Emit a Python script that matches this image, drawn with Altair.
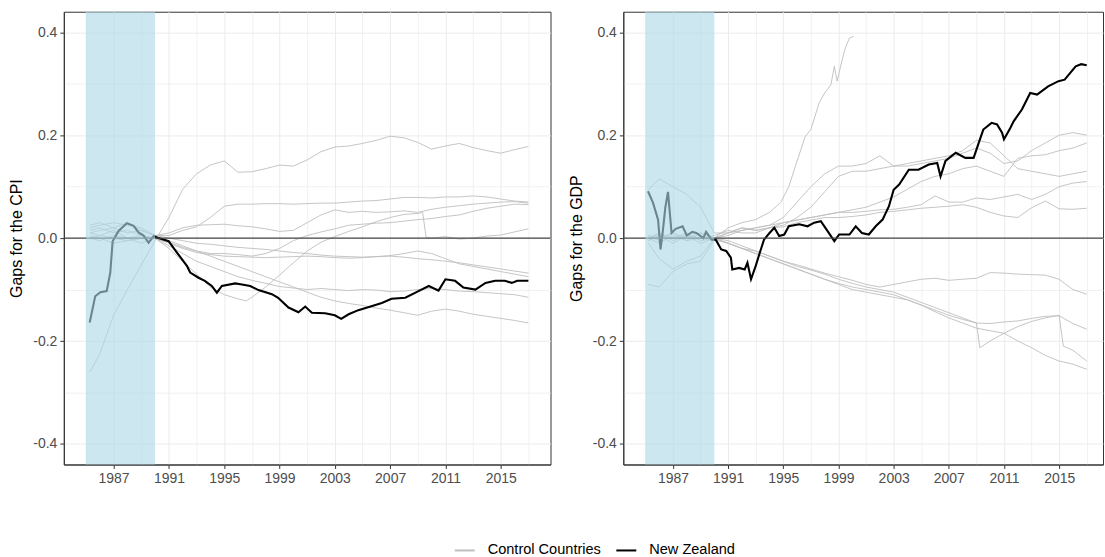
import altair as alt
import pandas as pd

# ---------------- data ----------------
GROUPS = ["Control Countries", "New Zealand"]
GROUP_COLORS = ["#BEBEBE", "#000000"]

GRID_YEARS = [1985, 1987, 1989, 1991, 1993, 1995, 1997, 1999, 2001, 2003,
              2005, 2007, 2009, 2011, 2013, 2015, 2017]
Y_GRID = [-0.4, -0.3, -0.2, -0.1, 0.0, 0.1, 0.2, 0.3, 0.4]
SHADE_START = [1985]
SHADE_END = [1990]
ZERO = [0.0]

# ---- CPI panel ----
CPI_YEARS = [1985.3, 1986, 1987, 1988, 1989, 1990, 1991, 1992, 1993, 1994, 1995,
             1996, 1997, 1998, 1999, 2000, 2001, 2002, 2003, 2004, 2005, 2006,
             2007, 2008, 2009, 2010, 2011, 2012, 2013, 2014, 2015, 2016, 2017]
CPI_A = [-0.26, -0.225, -0.15, -0.1, -0.052, -0.005, 0.04, 0.095, 0.125, 0.142, 0.15,
         0.128, 0.129, 0.135, 0.142, 0.14, 0.152, 0.168, 0.177, 0.179, 0.184, 0.19,
         0.198, 0.195, 0.186, 0.173, 0.179, 0.184, 0.176, 0.17, 0.165, 0.172, 0.178]
CPI_B = [0.01, 0.015, 0.02, 0.01, 0.015, 0.005, 0.005, 0.015, 0.022, 0.04, 0.062,
         0.066, 0.066, 0.067, 0.067, 0.066, 0.067, 0.068, 0.068, 0.07, 0.072, 0.073,
         0.076, 0.079, 0.079, 0.078, 0.08, 0.08, 0.082, 0.08, 0.076, 0.072, 0.07]
CPI_C = [0.02, 0.025, 0.03, 0.025, 0.02, 0.005, 0.01, 0.02, 0.025, 0.026, 0.027,
         0.024, 0.022, 0.018, 0.013, 0.015, 0.03, 0.045, 0.055, 0.05, 0.052, 0.05,
         0.051, 0.053, 0.05, 0.056, 0.06, 0.063, 0.066, 0.068, 0.07, 0.071, 0.068]
CPI_D = [0.0, -0.005, 0.005, 0.0, -0.01, 0.0, -0.008, -0.018, -0.025, -0.03, -0.03,
         -0.032, -0.035, -0.03, -0.02, -0.005, 0.005, 0.012, 0.018, 0.025, 0.027, 0.029,
         0.03, 0.033, 0.036, 0.038, 0.042, 0.045, 0.052, 0.058, 0.062, 0.066, 0.065]
CPI_F1 = [0.025, 0.03, 0.02, 0.03, 0.015, 0.005, 0.0, -0.005, -0.01, -0.012, -0.015,
          -0.018, -0.02, -0.022, -0.025, -0.028, -0.03, -0.033, -0.035, -0.036, -0.037, -0.036,
          -0.035, -0.037, -0.04, -0.042, -0.045, -0.048, -0.052, -0.056, -0.06, -0.064, -0.068]
CPI_F2 = [0.01, 0.005, 0.015, 0.0, 0.005, 0.0, -0.01, -0.02, -0.028, -0.032, -0.035,
          -0.036, -0.037, -0.038, -0.037, -0.036, -0.035, -0.036, -0.038, -0.039, -0.038, -0.036,
          -0.034, -0.03, -0.025, -0.03, -0.04, -0.05, -0.055, -0.06, -0.065, -0.07, -0.075]
CPI_G = [0.0, 0.005, 0.0, -0.005, 0.0, 0.0, -0.015, -0.03, -0.045, -0.055, -0.065,
         -0.075, -0.082, -0.088, -0.094, -0.097, -0.1, -0.098, -0.1, -0.102, -0.1, -0.101,
         -0.104, -0.103, -0.1, -0.098, -0.1, -0.103, -0.104, -0.106, -0.108, -0.11, -0.115]
CPI_H = [0.005, 0.0, -0.01, -0.005, 0.0, 0.0, -0.005, -0.015, -0.025, -0.035, -0.045,
         -0.055, -0.065, -0.075, -0.085, -0.095, -0.105, -0.115, -0.122, -0.127, -0.131, -0.136,
         -0.14, -0.145, -0.15, -0.142, -0.138, -0.142, -0.148, -0.152, -0.156, -0.16, -0.165]
CPI_E_YEARS = [1985.3, 1986, 1987, 1988, 1989, 1990, 1991, 1992, 1993, 1994,
               1995, 1996, 1996.6, 1997, 1998, 1999, 2000, 2001, 2002, 2003,
               2004, 2005, 2006, 2007, 2008, 2009, 2009.35, 2009.6, 2010, 2011,
               2012, 2013, 2014, 2015, 2016, 2017]
CPI_E = [0.015, 0.02, 0.01, 0.015, 0.005, 0.0, -0.02, -0.045, -0.07, -0.095,
         -0.11, -0.118, -0.122, -0.115, -0.095, -0.072, -0.048, -0.025, -0.008, 0.003,
         0.013, 0.022, 0.032, 0.04, 0.046, 0.048, 0.05, 0.002, 0.0, 0.003,
         -0.002, 0.0, 0.004, 0.006, 0.012, 0.018]
NZ_CPI_YEARS = [1985.27, 1985.67, 1986.04, 1986.5, 1986.76, 1986.93, 1987.36, 1987.96, 1988.45, 1988.8,
                1989.17, 1989.53, 1989.9, 1990.25, 1990.98, 1991.58, 1992.3, 1992.54, 1993.14, 1993.6,
                1994.1, 1994.47, 1994.83, 1995.8, 1996.28, 1996.88, 1997.48, 1998.45, 1998.9, 1999.65,
                2000.37, 2000.86, 2001.34, 2002.3, 2003.0, 2003.46, 2004.0, 2004.7, 2005.7, 2006.4,
                2007.1, 2008.1, 2009.05, 2009.8, 2010.5, 2011.0, 2011.7, 2012.3, 2013.17, 2013.9,
                2014.6, 2015.3, 2015.8, 2016.2, 2017.0]
NZ_CPI = [-0.164, -0.113, -0.105, -0.103, -0.067, -0.006, 0.014, 0.029, 0.024, 0.011,
          0.005, -0.009, 0.004, 0.0, -0.006, -0.028, -0.054, -0.067, -0.077, -0.083,
          -0.093, -0.106, -0.093, -0.088, -0.09, -0.093, -0.101, -0.109, -0.116, -0.135,
          -0.144, -0.133, -0.145, -0.146, -0.15, -0.157, -0.148, -0.14, -0.132, -0.126,
          -0.118, -0.116, -0.103, -0.093, -0.102, -0.08, -0.083, -0.096, -0.1, -0.087,
          -0.083, -0.083, -0.087, -0.083, -0.083]

# ---- GDP panel ----
GDP_YEARS = [1985.2, 1986, 1987, 1988, 1989, 1990, 1991, 1992, 1993, 1994, 1995,
             1996, 1997, 1998, 1999, 2000, 2001, 2002, 2003, 2004, 2005, 2006,
             2007, 2008, 2009, 2010, 2011, 2012, 2013, 2014, 2015, 2016, 2017]
GDP_Q1 = [0.094, 0.115, 0.1, 0.085, 0.06, 0.01, 0.01, 0.015, 0.02, 0.025, 0.04,
          0.07, 0.1, 0.125, 0.14, 0.14, 0.145, 0.16, 0.14, 0.145, 0.15, 0.155,
          0.16, 0.17, 0.19, 0.185, 0.16, 0.135, 0.13, 0.125, 0.12, 0.125, 0.13]
GDP_Q2 = [0.005, -0.005, 0.01, 0.0, 0.01, 0.0, 0.01, 0.02, 0.015, 0.02, 0.025,
          0.04, 0.06, 0.09, 0.12, 0.13, 0.13, 0.135, 0.14, 0.14, 0.145, 0.15,
          0.155, 0.165, 0.175, 0.165, 0.145, 0.15, 0.17, 0.185, 0.2, 0.205, 0.2]
GDP_Q3 = [0.0, 0.005, -0.01, 0.005, 0.0, 0.005, 0.015, 0.01, 0.01, 0.02, 0.03,
          0.035, 0.04, 0.045, 0.05, 0.055, 0.06, 0.07, 0.08, 0.095, 0.11, 0.12,
          0.125, 0.135, 0.14, 0.13, 0.12, 0.155, 0.16, 0.162, 0.17, 0.175, 0.185]
GDP_Q4 = [0.0, -0.01, 0.005, -0.005, 0.01, 0.0, 0.005, 0.015, 0.02, 0.025, 0.03,
          0.035, 0.04, 0.045, 0.05, 0.05, 0.052, 0.055, 0.056, 0.06, 0.065, 0.082,
          0.07, 0.07, 0.078, 0.075, 0.08, 0.085, 0.075, 0.085, 0.1, 0.107, 0.11]
GDP_Q5 = [-0.005, 0.005, 0.0, 0.01, -0.005, 0.0, 0.01, 0.02, 0.015, 0.02, 0.022,
          0.03, 0.035, 0.04, 0.04, 0.042, 0.045, 0.05, 0.052, 0.055, 0.058, 0.06,
          0.062, 0.065, 0.06, 0.05, 0.043, 0.04, 0.059, 0.072, 0.057, 0.056, 0.058]
GDP_R1 = [-0.009, -0.04, -0.06, -0.045, -0.035, 0.0, -0.01, -0.02, -0.025, -0.035, -0.045,
          -0.052, -0.06, -0.068, -0.075, -0.082, -0.09, -0.095, -0.09, -0.085, -0.08, -0.078,
          -0.082, -0.08, -0.078, -0.067, -0.068, -0.07, -0.071, -0.072, -0.08, -0.1, -0.109]
GDP_R2 = [0.005, 0.0, 0.01, -0.005, 0.0, 0.0, -0.005, -0.015, -0.025, -0.035, -0.045,
          -0.055, -0.062, -0.07, -0.08, -0.088, -0.095, -0.1, -0.105, -0.115, -0.125, -0.135,
          -0.145, -0.155, -0.165, -0.166, -0.163, -0.161, -0.156, -0.152, -0.151, -0.166, -0.177]
GDP_R4 = [-0.09, -0.095, -0.065, -0.05, -0.045, -0.003, -0.01, -0.02, -0.03, -0.04, -0.05,
          -0.06, -0.07, -0.08, -0.088, -0.095, -0.1, -0.105, -0.11, -0.12, -0.13, -0.143,
          -0.155, -0.165, -0.175, -0.18, -0.185, -0.2, -0.213, -0.228, -0.239, -0.245, -0.255]
GDP_P_YEARS = [1985.2, 1986, 1987, 1988, 1989, 1990, 1991, 1992, 1993, 1994,
               1994.8, 1995.4, 1996, 1996.6, 1997, 1997.6, 1998, 1998.45, 1998.7, 1998.9,
               1999.3, 1999.5, 1999.8, 2000.1]
GDP_P = [0.0, 0.01, -0.005, 0.005, 0.0, 0.0, 0.02, 0.03, 0.036, 0.05,
         0.069, 0.1, 0.15, 0.198, 0.211, 0.263, 0.282, 0.298, 0.334, 0.305,
         0.35, 0.37, 0.389, 0.392]
GDP_R3_YEARS = [1985.2, 1986, 1987, 1988, 1989, 1990, 1991, 1992, 1993, 1994,
                1995, 1996, 1997, 1998, 1999, 2000, 2001, 2002, 2003, 2004,
                2005, 2006, 2007, 2008, 2009, 2009.25, 2010, 2011, 2012, 2013,
                2014, 2015, 2015.3, 2016, 2017]
GDP_R3 = [-0.005, 0.01, 0.0, 0.005, -0.01, 0.0, -0.01, -0.02, -0.03, -0.04,
          -0.05, -0.06, -0.07, -0.08, -0.09, -0.1, -0.105, -0.11, -0.115, -0.12,
          -0.13, -0.14, -0.15, -0.158, -0.165, -0.213, -0.2, -0.185, -0.172, -0.162,
          -0.155, -0.15, -0.21, -0.218, -0.239]
NZ_GDP_YEARS = [1985.19, 1985.55, 1985.92, 1986.1, 1986.25, 1986.45, 1986.64, 1986.9, 1987.2, 1987.7,
                1988.0, 1988.4, 1988.7, 1989.2, 1989.4, 1989.8, 1990.1, 1990.5, 1990.86, 1991.2,
                1991.3, 1991.8, 1992.2, 1992.4, 1992.66, 1993.0, 1993.3, 1993.6, 1994.0, 1994.35,
                1994.7, 1995.07, 1995.4, 1996.16, 1996.76, 1997.24, 1997.72, 1998.2, 1998.7, 1999.05,
                1999.8, 2000.25, 2000.7, 2001.2, 2001.7, 2002.2, 2002.66, 2003.0, 2003.4, 2004.1,
                2004.8, 2005.55, 2006.16, 2006.4, 2006.76, 2007.5, 2008.2, 2008.8, 2009.17, 2009.5,
                2010.1, 2010.5, 2010.86, 2011.0, 2011.46, 2011.7, 2012.3, 2012.9, 2013.4, 2014.2,
                2014.95, 2015.4, 2016.2, 2016.6, 2017.0]
NZ_GDP = [0.091, 0.069, 0.036, -0.022, 0.01, 0.06, 0.09, 0.01, 0.018, 0.023,
          0.005, 0.012, 0.01, 0.0, 0.012, -0.003, -0.003, -0.022, -0.025, -0.038,
          -0.061, -0.058, -0.061, -0.048, -0.08, -0.054, -0.028, -0.003, 0.01, 0.02,
          0.004, 0.007, 0.023, 0.027, 0.023, 0.03, 0.033, 0.014, -0.006, 0.007,
          0.007, 0.023, 0.01, 0.007, 0.023, 0.036, 0.062, 0.094, 0.104, 0.133,
          0.133, 0.143, 0.146, 0.12, 0.15, 0.166, 0.156, 0.156, 0.185, 0.211,
          0.224, 0.221, 0.205, 0.192, 0.214, 0.227, 0.25, 0.282, 0.279, 0.295,
          0.305, 0.308, 0.334, 0.338, 0.336]

CPI_CONTROLS = [("A", CPI_YEARS, CPI_A), ("B", CPI_YEARS, CPI_B), ("C", CPI_YEARS, CPI_C),
                ("D", CPI_YEARS, CPI_D), ("E", CPI_E_YEARS, CPI_E), ("F1", CPI_YEARS, CPI_F1),
                ("F2", CPI_YEARS, CPI_F2), ("G", CPI_YEARS, CPI_G), ("H", CPI_YEARS, CPI_H)]
GDP_CONTROLS = [("P", GDP_P_YEARS, GDP_P), ("Q1", GDP_YEARS, GDP_Q1), ("Q2", GDP_YEARS, GDP_Q2),
                ("Q3", GDP_YEARS, GDP_Q3), ("Q4", GDP_YEARS, GDP_Q4), ("Q5", GDP_YEARS, GDP_Q5),
                ("R1", GDP_YEARS, GDP_R1), ("R2", GDP_YEARS, GDP_R2), ("R3", GDP_R3_YEARS, GDP_R3),
                ("R4", GDP_YEARS, GDP_R4)]


def frame(series, group):
    recs = []
    for name, xs, ys in series:
        for x, y in zip(xs, ys):
            recs.append({"year": x, "gap": y, "series": name, "group": group})
    return pd.DataFrame(recs)


cpi_gray = frame(CPI_CONTROLS, GROUPS[0])
cpi_nz = frame([("NZ", NZ_CPI_YEARS, NZ_CPI)], GROUPS[1])
gdp_gray = frame(GDP_CONTROLS, GROUPS[0])
gdp_nz = frame([("NZ", NZ_GDP_YEARS, NZ_GDP)], GROUPS[1])
shade_df = pd.DataFrame({"start": SHADE_START, "end": SHADE_END})
zero_df = pd.DataFrame({"gap": ZERO})

# ---------------- styling ----------------
FONT = "Liberation Sans"
X_MIN = 1983.4
Y_DOM = [-0.44, 0.44]
PANEL_H = 454

X_MAJOR = "(datum.value - 1987) % 4 == 0"
Y_MAJOR = "round(datum.value * 10) % 2 == 0"


def panel(gray_df, nz_df, title, x_max, width):
    xs = alt.Scale(domain=[X_MIN, x_max], nice=False, zero=False)
    ys = alt.Scale(domain=Y_DOM, nice=False, zero=False)
    xaxis = alt.Axis(
        values=GRID_YEARS, labelExpr=X_MAJOR + " ? format(datum.value, 'd') : ''",
        tickColor={"condition": {"test": "!(" + X_MAJOR + ")", "value": "transparent"}, "value": "#333333"},
        gridWidth={"condition": {"test": "!(" + X_MAJOR + ")", "value": 0.7}, "value": 1.0},
        labelOverlap=False, labelFlush=False,
    )
    yaxis = alt.Axis(
        values=Y_GRID,
        labelExpr=Y_MAJOR + " ? (datum.value < -0.001 ? '-' : '') + format(abs(datum.value), '.1f') : ''",
        tickColor={"condition": {"test": "!(" + Y_MAJOR + ")", "value": "transparent"}, "value": "#333333"},
        gridWidth={"condition": {"test": "!(" + Y_MAJOR + ")", "value": 0.7}, "value": 1.0},
        labelOverlap=False, labelFlush=False,
    )
    X = lambda f: alt.X(f, scale=xs, axis=xaxis, title=None)
    Y = lambda f: alt.Y(f, scale=ys, axis=yaxis, title=title)
    color = alt.Color(
        "group:N", scale=alt.Scale(domain=GROUPS, range=GROUP_COLORS),
        legend=alt.Legend(title=None, orient="none", legendX=391, legendY=529,
                          direction="horizontal", symbolType="stroke", symbolSize=400,
                          symbolStrokeWidth=2, labelFontSize=14.6, labelFont=FONT,
                          labelColor="#000000", columnPadding=11, labelOffset=12),
    )
    gray = alt.Chart(gray_df).mark_line(strokeWidth=0.9, clip=True).encode(
        x=X("year:Q"), y=Y("gap:Q"), detail="series:N", color=color,
    )
    nz = alt.Chart(nz_df).mark_line(strokeWidth=2.1, clip=True).encode(
        x=X("year:Q"), y=Y("gap:Q"), color=color,
    )
    zero = alt.Chart(zero_df).mark_rule(color="#444444", strokeWidth=1.1).encode(
        y=Y("gap:Q")
    )
    shade = alt.Chart(shade_df).mark_rect(color="#ADD8E6", opacity=0.62).encode(
        x=X("start:Q"), x2="end:Q"
    )
    return alt.layer(gray, nz, zero, shade).properties(width=width, height=PANEL_H)


left = panel(cpi_gray, cpi_nz, "Gaps for the CPI", 2018.6, 488)
right = panel(gdp_gray, gdp_nz, "Gaps for the GDP", 2018.18, 481)

chart = (
    alt.hconcat(left, right, spacing=15)
    .properties(padding={"left": 8, "top": 10, "right": 0, "bottom": 0}, background="white")
    .configure_view(stroke="#333333", strokeWidth=1)
    .configure_axis(
        labelFont=FONT, labelFontSize=14, labelColor="#4D4D4D",
        titleFont=FONT, titleFontSize=16, titleColor="#000000", titleFontWeight="normal",
        titlePadding=8, gridColor="#EBEBEB", domainColor="#333333", domainWidth=1,
        tickSize=4, labelPadding=3,
    )
)

chart.save("out.html", embed_options={"renderer": "svg", "actions": False})
